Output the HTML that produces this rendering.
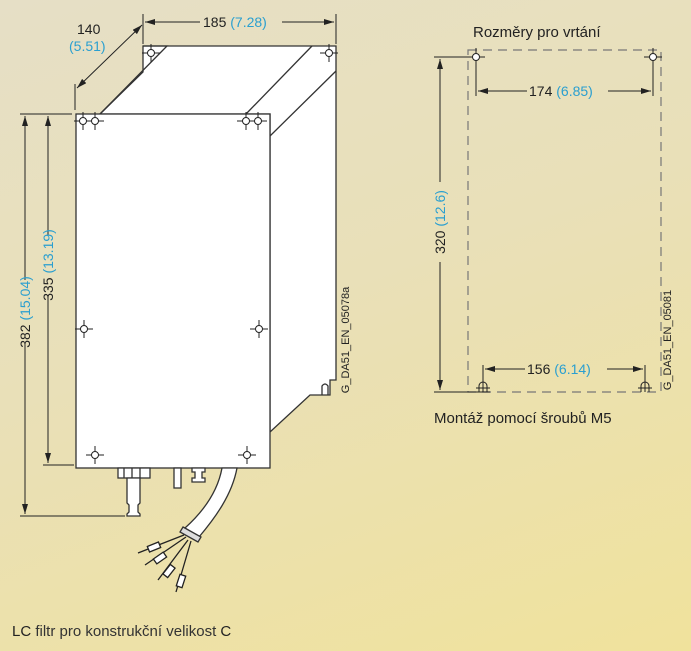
<!DOCTYPE html>
<html><head><meta charset="utf-8"><style>
html,body{margin:0;padding:0}
body{width:691px;height:651px;overflow:hidden;background:linear-gradient(160deg,#e6dfc6 0%,#e9e0b8 45%,#f0e29c 100%);font-family:"Liberation Sans",sans-serif}
svg{position:absolute;left:0;top:0}
</style></head><body>
<svg width="691" height="651" viewBox="0 0 691 651" font-family="Liberation Sans, sans-serif">
<defs>
<marker id="a" viewBox="0 0 10 6" refX="10" refY="3" markerWidth="10" markerHeight="6" orient="auto-start-reverse" markerUnits="userSpaceOnUse"><path d="M0,0L10,3L0,6z" fill="#222"/></marker>
<g id="h"><line x1="-9" y1="0" x2="9" y2="0" stroke="#222" stroke-width="1"/><line x1="0" y1="-9" x2="0" y2="9" stroke="#222" stroke-width="1"/><circle r="3.5" fill="#fff" stroke="#222" stroke-width="1"/></g>
</defs>
<g stroke="#333" stroke-width="1.3" fill="#fff">
<!-- back box / top / side -->
<path d="M143,46 L336,46 L336,380 L330,380 L330,395 L310,395 L270,432 L270,114 L100,114 L143,72 Z"/>
<path d="M143,46 L167,46 L100,114" fill="none"/>
<path d="M312,46 L246,114" fill="none"/>
<path d="M336,71 L270,136" fill="none"/>
<path d="M322,395 L322,386 Q325,382 328,386 L328,395" fill="none"/>
<!-- front -->
<rect x="76" y="114" width="194" height="354"/>
<!-- bottom parts -->
<rect x="118" y="468" width="32" height="10"/>
<path d="M124,468 V478 M132,468 V478 M140,468 V478" fill="none"/>
<path d="M127,478 H140 V503 L138,505 V512 L140,514 V516 H127 V514 L129,512 V505 L127,503 Z"/>
<rect x="174" y="468" width="7" height="20"/>
<path d="M192,468 H205 V472 H202 V478 H205 V482 H192 V478 H195 V472 H192 Z"/>
<path d="M222,468 C218,490 205,510 185,528 L199,537 C215,518 232,495 237,468 Z"/>
<path d="M183,527 L201,537 L198,542 L180,532 Z" fill="#ddd"/>
</g>
<g stroke="#222" stroke-width="1.3" fill="#fff">
<path d="M184,535 L138,553 M186,537 L145,565 M188,540 L158,580 M191,541 L176,592" fill="none"/>
<rect x="148" y="544" width="12" height="6" transform="rotate(-22 154 547)"/>
<rect x="154" y="555" width="12" height="6" transform="rotate(-35 160 558)"/>
<rect x="163" y="568" width="12" height="6" transform="rotate(-52 169 571)"/>
<rect x="175" y="578" width="12" height="6" transform="rotate(-72 181 581)"/>
</g>
<!-- holes -->
<use href="#h" x="151" y="53"/><use href="#h" x="329" y="53"/>
<use href="#h" x="83" y="121"/><use href="#h" x="95" y="121"/>
<use href="#h" x="246" y="121"/><use href="#h" x="258" y="121"/>
<use href="#h" x="84" y="329"/><use href="#h" x="259" y="329"/>
<use href="#h" x="95" y="455"/><use href="#h" x="247" y="455"/>
<!-- dims left -->
<g stroke="#222" stroke-width="1" fill="none">
<line x1="143" y1="14" x2="143" y2="44"/><line x1="336" y1="14" x2="336" y2="44"/>
<line x1="145" y1="22" x2="200" y2="22" marker-start="url(#a)"/>
<line x1="282" y1="22" x2="334" y2="22" marker-end="url(#a)"/>
<line x1="75" y1="84" x2="75" y2="110"/>
<line x1="77" y1="88" x2="142" y2="25" marker-start="url(#a)" marker-end="url(#a)"/>
<line x1="20" y1="114" x2="72" y2="114"/>
<line x1="25" y1="116" x2="25" y2="280" marker-start="url(#a)"/><line x1="25" y1="345" x2="25" y2="514" marker-end="url(#a)"/>
<line x1="20" y1="516" x2="125" y2="516"/>
<line x1="48" y1="116" x2="48" y2="235" marker-start="url(#a)"/><line x1="48" y1="295" x2="48" y2="463" marker-end="url(#a)"/>
<line x1="43" y1="465" x2="74" y2="465"/>
</g>
<g font-size="14" fill="#222">
<text x="203" y="27">185 <tspan fill="#2a9fd0">(7.28)</tspan></text>
<text x="77" y="34">140</text><text x="69" y="51" fill="#2a9fd0">(5.51)</text>
<text transform="translate(30,312) rotate(-90)" text-anchor="middle">382 <tspan fill="#2a9fd0">(15.04)</tspan></text>
<text transform="translate(53,265) rotate(-90)" text-anchor="middle">335 <tspan fill="#2a9fd0">(13.19)</tspan></text>
</g>
<text transform="translate(349,340) rotate(-90)" text-anchor="middle" font-size="11" fill="#222">G_DA51_EN_05078a</text>
<!-- right drawing -->
<rect x="468" y="50" width="193" height="342" fill="none" stroke="#777" stroke-width="1.2" stroke-dasharray="9,6"/>
<use href="#h" x="476" y="57"/><use href="#h" x="653" y="57"/>
<g stroke="#222" stroke-width="1" fill="none">
<line x1="476" y1="60" x2="476" y2="96"/><line x1="653" y1="60" x2="653" y2="96"/>
<line x1="478" y1="91" x2="527" y2="91" marker-start="url(#a)"/><line x1="608" y1="91" x2="651" y2="91" marker-end="url(#a)"/>
<line x1="483" y1="365" x2="483" y2="392"/><line x1="645" y1="365" x2="645" y2="392"/>
<line x1="485" y1="369" x2="525" y2="369" marker-start="url(#a)"/><line x1="607" y1="369" x2="643" y2="369" marker-end="url(#a)"/>
<line x1="434" y1="57" x2="472" y2="57"/><line x1="434" y1="392" x2="490" y2="392"/>
<line x1="440" y1="59" x2="440" y2="182" marker-start="url(#a)"/><line x1="440" y1="262" x2="440" y2="390" marker-end="url(#a)"/>
<path d="M479,392 V386 A4,4 0 0 1 487,386 V392 M641,392 V386 A4,4 0 0 1 649,386 V392 M476,388 H490 M638,388 H652"/>
</g>
<g font-size="14" fill="#222">
<text x="473" y="37" font-size="15">Rozměry pro vrtání</text>
<text x="529" y="96">174 <tspan fill="#2a9fd0">(6.85)</tspan></text>
<text x="527" y="374">156 <tspan fill="#2a9fd0">(6.14)</tspan></text>
<text transform="translate(445,222) rotate(-90)" text-anchor="middle">320 <tspan fill="#2a9fd0">(12.6)</tspan></text>
<text x="434" y="423" font-size="15">Montáž pomocí šroubů M5</text>
<text x="12" y="636" font-size="15">LC <tspan fill="#333">filtr pro konstrukční velikost</tspan> C</text>
</g>
<text transform="translate(671,340) rotate(-90)" text-anchor="middle" font-size="11" fill="#222">G_DA51_EN_05081</text>
</svg>
</body></html>
